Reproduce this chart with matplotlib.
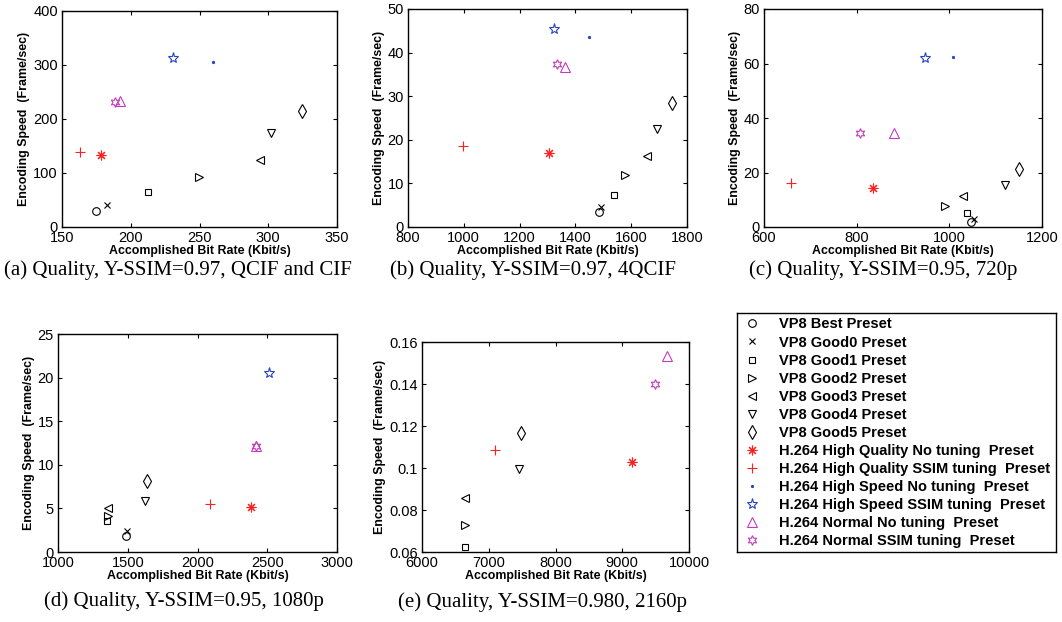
import numpy as np
import matplotlib
matplotlib.use("Agg")
import matplotlib.pyplot as plt
from matplotlib.ticker import FixedLocator, FixedFormatter

nan = np.nan

# ---- data ----
series = ["VP8 Best Preset", "VP8 Good0 Preset", "VP8 Good1 Preset", "VP8 Good2 Preset",
          "VP8 Good3 Preset", "VP8 Good4 Preset", "VP8 Good5 Preset",
          "H.264 High Quality No tuning  Preset", "H.264 High Quality SSIM tuning  Preset",
          "H.264 High Speed No tuning  Preset", "H.264 High Speed SSIM tuning  Preset",
          "H.264 Normal No tuning  Preset", "H.264 Normal SSIM tuning  Preset"]

a_x = [174.6, 183, 212.4, 249.8, 294, 301.7, 324.9, 178.5, 163, 259.5, 231, 192, 188.5]
a_y = [30, 41, 64, 93, 125, 175, 215, 133, 139, 305, 313, 233, 231]

b_x = [1483, 1493, 1538, 1579, 1657, 1693, 1747, 1304, 996, 1448, 1323, 1364, 1334]
b_y = [3.4, 4.6, 7.4, 12.0, 16.2, 22.4, 28.4, 16.9, 18.5, 43.5, 45.5, 36.8, 37.3]

c_x = [1047, 1054, 1038, 990, 1030, 1120, 1150, 836, 659, 1008, 948, 880, 808]
c_y = [2.0, 2.9, 5.3, 7.8, 11.5, 15.5, 21.2, 14.3, 16.1, 62.4, 62.1, 34.6, 34.6]

d_x = [1490, 1495, 1348, 1362, 1362, 1626, 1635, 2386, 2087, nan, 2512, 2420, 2420]
d_y = [1.8, 2.4, 3.5, 4.15, 5.07, 5.9, 8.1, 5.18, 5.56, nan, 20.5, 12.2, 12.1]

e_x = [nan, nan, 6648, 6648, 6648, 7447, 7477, 9141, 7101, nan, nan, 9668, 9487]
e_y = [nan, nan, 0.0624, 0.0727, 0.0859, 0.0995, 0.1168, 0.103, 0.1086, nan, nan, 0.1532, 0.1398]

a_xticks = [150, 200, 250, 300, 350]
a_yticks = [0, 100, 200, 300, 400]
b_xticks = [800, 1000, 1200, 1400, 1600, 1800]
b_yticks = [0, 10, 20, 30, 40, 50]
c_xticks = [600, 800, 1000, 1200]
c_yticks = [0, 20, 40, 60, 80]
d_xticks = [1000, 1500, 2000, 2500, 3000]
d_yticks = [0, 5, 10, 15, 20, 25]
e_xticks = [6000, 7000, 8000, 9000, 10000]
e_yticks = [0.06, 0.08, 0.10, 0.12, 0.14, 0.16]
e_yticklabels = ["0.06", "0.08", "0.1", "0.12", "0.14", "0.16"]

captions = ["(a) Quality, Y-SSIM=0.97, QCIF and CIF",
            "(b) Quality, Y-SSIM=0.97, 4QCIF",
            "(c) Quality, Y-SSIM=0.95, 720p",
            "(d) Quality, Y-SSIM=0.95, 1080p",
            "(e) Quality, Y-SSIM=0.980, 2160p"]

# ---- styles ----
RED = "#ff2020"
BLUE = "#2a44c0"
MAG = "#c43cbc"
styles = [
    dict(marker="o", color="k", ms=5.5),
    dict(marker="x", color="k", ms=5),
    dict(marker="s", color="k", ms=5),
    dict(marker=">", color="k", ms=6),
    dict(marker="<", color="k", ms=6),
    dict(marker="v", color="k", ms=6),
    dict(marker="d", color="k", ms=7),
    dict(marker=(8, 2, 0), color=RED, ms=7),
    dict(marker="+", color=RED, ms=7.5),
    dict(marker=".", color=BLUE, ms=3),
    dict(marker="*", color=BLUE, ms=8),
    dict(marker="^", color=MAG, ms=7),
    dict(marker=(6, 1, 0), color=MAG, ms=7),
]

W, H = 1062, 622
fig = plt.figure(figsize=(W / 100, H / 100), dpi=100)

def px_axes(x0, x1, y0, y1):
    return fig.add_axes([x0 / W, 1 - y1 / H, (x1 - x0) / W, (y1 - y0) / H])

panels = [
    (px_axes(62, 337, 11, 227), a_x, a_y, a_xticks, a_yticks, None),
    (px_axes(408, 687, 9, 227), b_x, b_y, b_xticks, b_yticks, None),
    (px_axes(764, 1042, 9, 227), c_x, c_y, c_xticks, c_yticks, None),
    (px_axes(58, 337, 334, 552), d_x, d_y, d_xticks, d_yticks, None),
    (px_axes(422, 689, 342, 552), e_x, e_y, e_xticks, e_yticks, e_yticklabels),
]

TICKFONT = "Liberation Sans"
handles = None
for i, (ax, xs, ys, xt, yt, ytl) in enumerate(panels):
    hs = []
    for k in range(len(series)):
        st = styles[k]
        h, = ax.plot([xs[k]], [ys[k]], linestyle="none", marker=st["marker"],
                     markersize=st["ms"], markeredgecolor=st["color"],
                     markerfacecolor="none" if st["marker"] != "." else st["color"],
                     markeredgewidth=0.8, label=series[k])
        hs.append(h)
    if i == 0:
        handles = hs
    ax.set_xlim(xt[0], xt[-1])
    ax.set_ylim(yt[0], yt[-1])
    ax.xaxis.set_major_locator(FixedLocator(xt))
    ax.yaxis.set_major_locator(FixedLocator(yt))
    if ytl is not None:
        ax.yaxis.set_major_formatter(FixedFormatter(ytl))
    ax.tick_params(direction="in", top=True, right=True, length=3, width=0.8,
                   labelsize=10.5, pad=3)
    for lab in ax.get_xticklabels() + ax.get_yticklabels():
        lab.set_fontfamily(TICKFONT)
    for sp in ax.spines.values():
        sp.set_linewidth(1.0)
    ax.set_xlabel("Accomplished Bit Rate (Kbit/s)", fontsize=8.9, fontweight="bold",
                  family="Liberation Sans", labelpad=0)
    ax.set_ylabel("Encoding Speed  (Frame/sec)", fontsize=8.9, fontweight="bold",
                  family="Liberation Sans", labelpad=2)

# captions
cap_pos = [(178, 270), (533, 270), (883, 270), (184, 601), (543, 602)]
for txt, (cx, cy) in zip(captions, cap_pos):
    fig.text(cx / W, 1 - cy / H, txt, ha="center", va="center",
             family="Liberation Serif", fontsize=15)

# legend box
lax = px_axes(737, 1056, 313, 552)
lax.set_xticks([])
lax.set_yticks([])
for sp in lax.spines.values():
    sp.set_linewidth(1.0)
lax.patch.set_alpha(0)
leg = fig.legend(handles, series, loc="upper left",
                 bbox_to_anchor=(744.7 / W, 1 - 317.5 / H), bbox_transform=fig.transFigure,
                 frameon=False, borderpad=0, borderaxespad=0, handlelength=1.0,
                 handletextpad=1.35, labelspacing=0.28,
                 prop=dict(family="Liberation Sans", weight="bold", size=10.5))

fig.savefig("out.png", dpi=100)
